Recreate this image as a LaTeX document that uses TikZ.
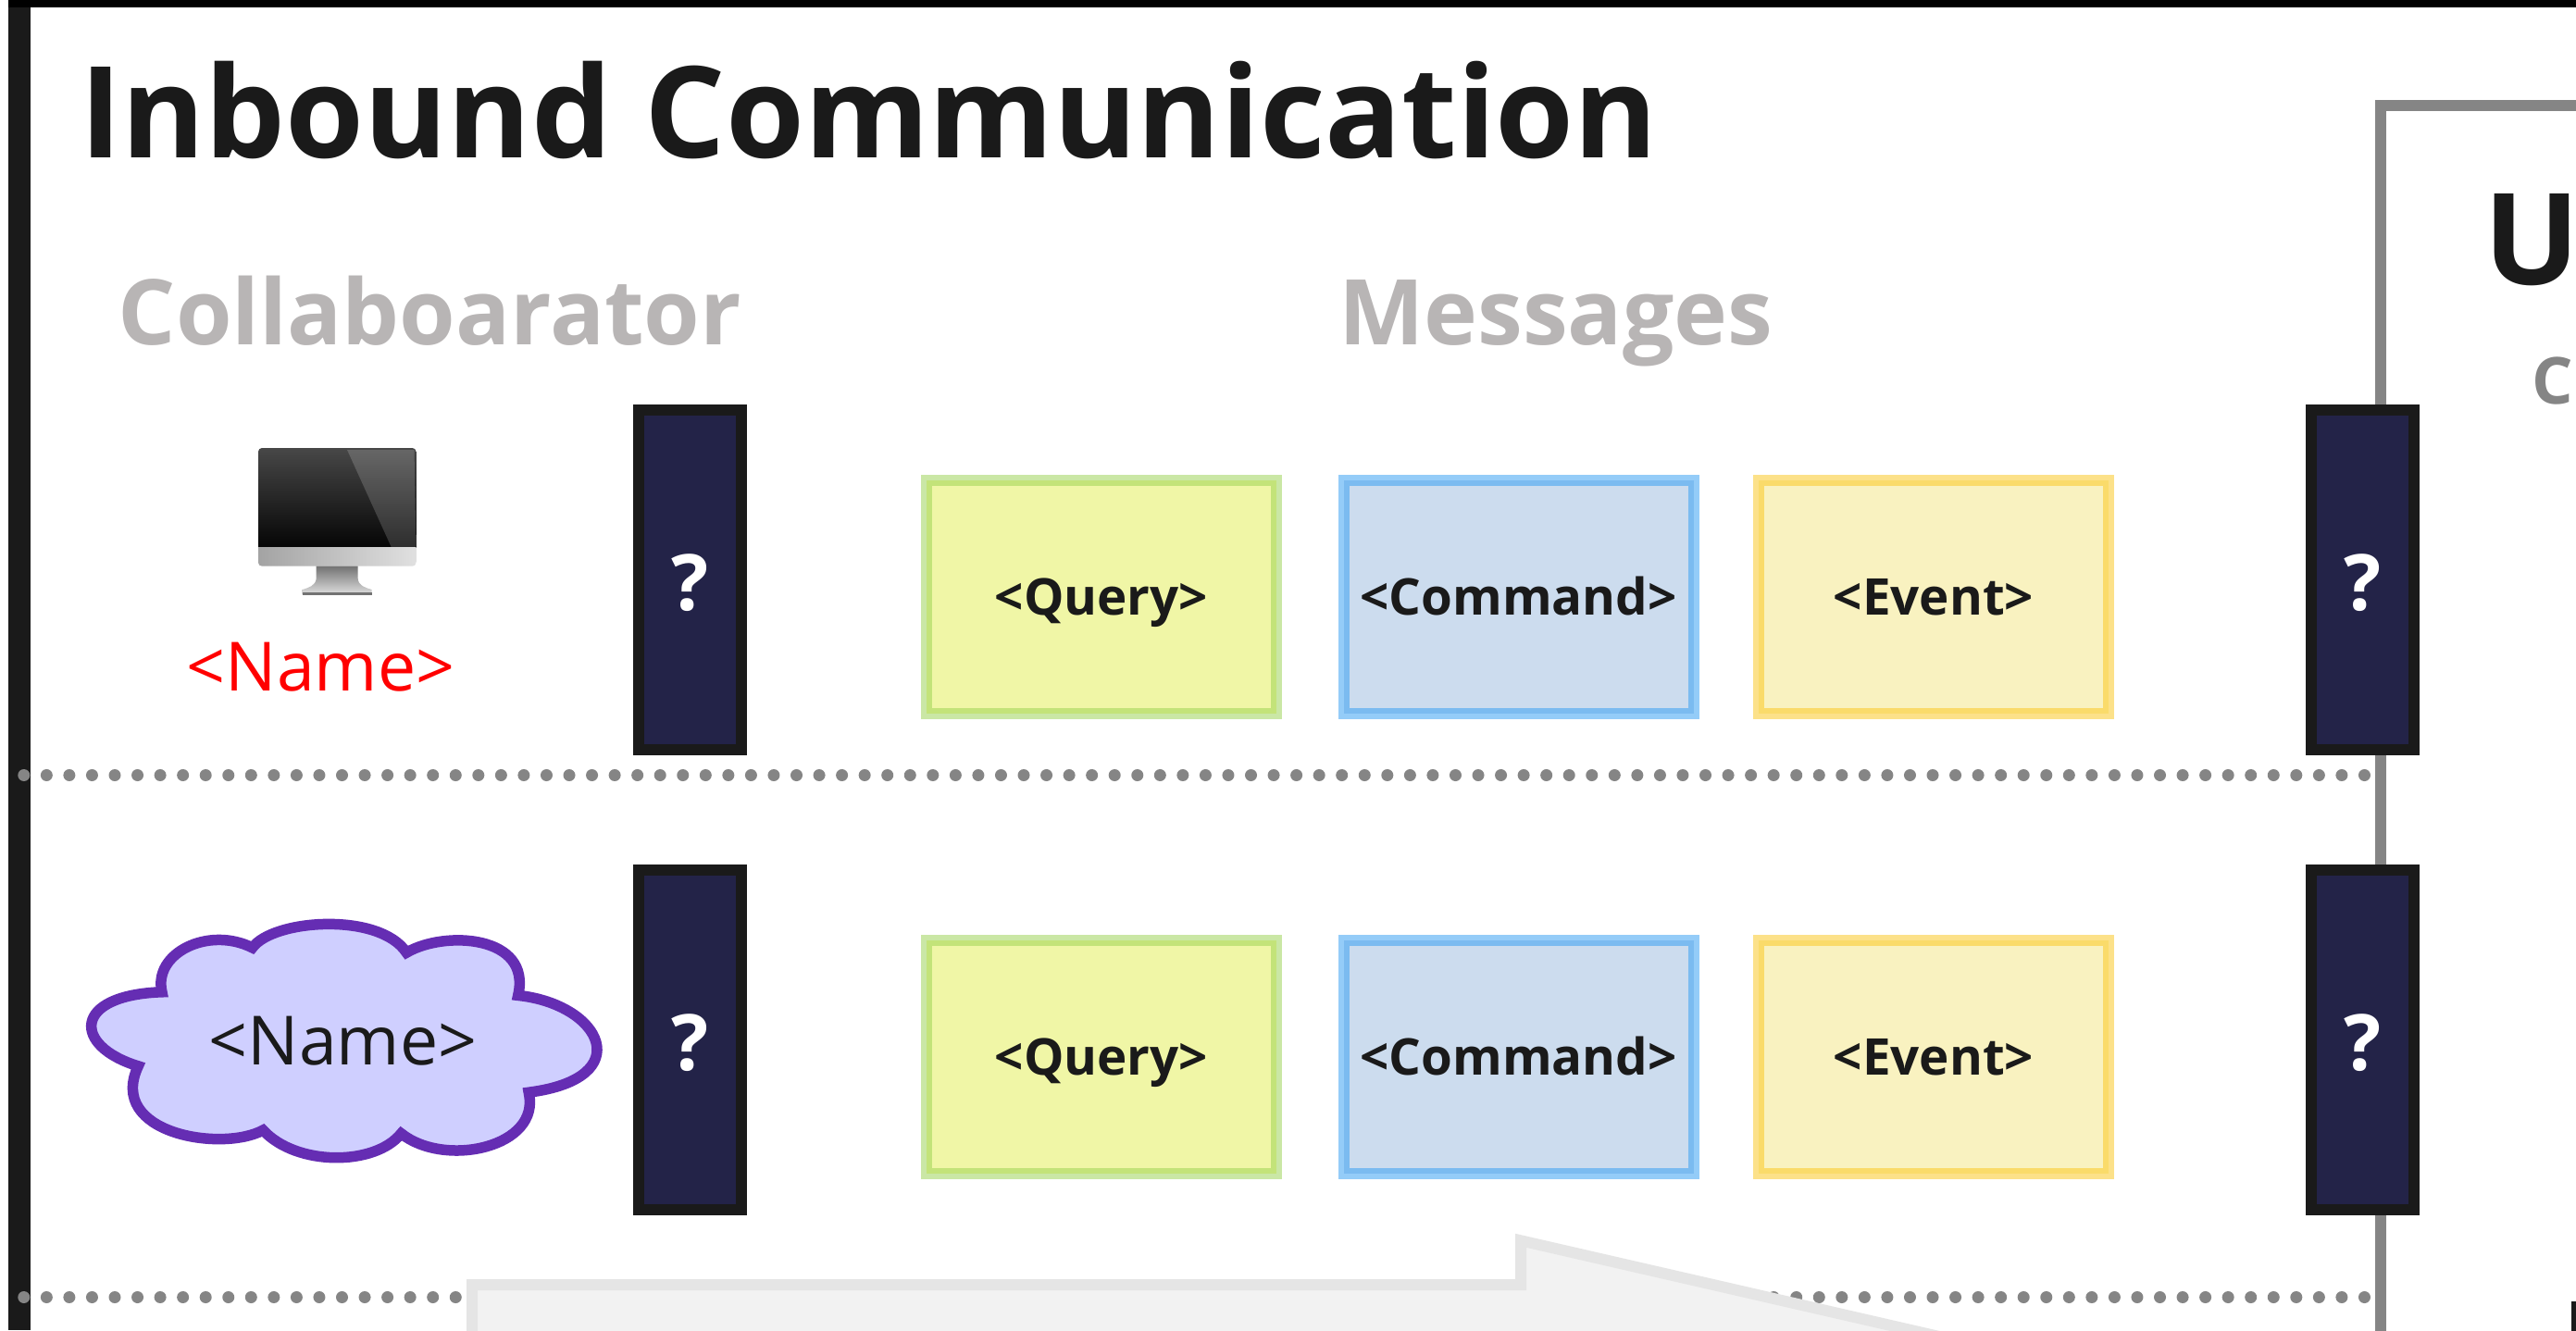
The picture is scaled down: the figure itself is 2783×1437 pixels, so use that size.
\documentclass[tikz,border=0pt]{standalone}
\usepackage{fontspec}
\setmainfont{Open Sans}
\definecolor{inkdark}{HTML}{1A1A1A}
\definecolor{headgray}{HTML}{B8B5B5}
\definecolor{framegray}{HTML}{858585}
\definecolor{portfill}{HTML}{232348}
\definecolor{queryfill}{HTML}{F0F6A6}
\definecolor{querydraw}{HTML}{97D14D}
\definecolor{commandfill}{HTML}{CCDCEE}
\definecolor{commanddraw}{HTML}{2B9BF3}
\definecolor{eventfill}{HTML}{F9F2C0}
\definecolor{eventdraw}{HTML}{FBC515}
\definecolor{cloudfill}{HTML}{CFCFFF}
\definecolor{clouddraw}{HTML}{652DB3}
\definecolor{arrowfill}{HTML}{F2F2F2}
\definecolor{arrowdraw}{HTML}{E5E5E5}
\tikzset{
  msgbox/.style={draw, line width=12pt, draw opacity=.5, minimum width=378pt, minimum height=252pt,
    inner sep=0pt, outer sep=0pt, text=inkdark, text height=38pt, text depth=0pt,
    font=\bfseries\fontsize{54.7}{54.7}\selectfont},
  querybox/.style={msgbox, fill=queryfill, draw=querydraw},
  commandbox/.style={msgbox, fill=commandfill, draw=commanddraw},
  eventbox/.style={msgbox, fill=eventfill, draw=eventdraw},
  portbox/.style={draw=inkdark, fill=portfill, line width=12pt, minimum width=111pt, minimum height=367pt,
    inner sep=0pt, outer sep=0pt, text=white, text height=66pt, text depth=0pt,
    font=\bfseries\fontsize{84}{84}\selectfont},
  titletext/.style={anchor=base west, inner sep=0pt, text=inkdark, font=\bfseries\fontsize{137.3}{137.3}\selectfont},
  headtext/.style={anchor=base west, inner sep=0pt, text=headgray, font=\bfseries\fontsize{98}{98}\selectfont},
  nametext/.style={anchor=base, inner sep=0pt, font=\fontsize{73.4}{73.4}\selectfont},
  dotline/.style={framegray, line width=13pt, line cap=round, dash pattern=on 0pt off 24.55pt},
}
\begin{document}
\begin{tikzpicture}[x=1pt,y=-1pt]
  \useasboundingbox (0,0) rectangle (2783,1437);
  \clip (0,0) rectangle (2783,1437);
  \fill[white] (0,0) rectangle (2783,1437);
  \fill[black] (9,0) rectangle (2783,8);
  \fill[inkdark] (9,8) rectangle (33,1437);
  \fill[inkdark] (2778,1406) rectangle (2790,1445);

  \coordinate (framebottom) at (2572,1445);
  \coordinate (framecorner) at (2572,114);
  \coordinate (frameright) at (2790,114);
  \draw[framegray, line width=12pt] (framebottom) -- (framecorner) -- (frameright);

  \node[titletext] (title) at (86,170) {Inbound Communication};
  \node[headtext] (collab) at (127.5,372.7) {Collaboarator};
  \node[headtext] (messages) at (1446,372.7) {Messages};
  \node[titletext] (ctx) at (2683,307) {U};
  \node[anchor=base west, inner sep=0pt, text=framegray, font=\bfseries\fontsize{70}{70}\selectfont] (ctxsub) at (2735,436) {C};

  \coordinate (dotaleft) at (25.8,837.5);
  \coordinate (dotaright) at (2555,837.5);
  \coordinate (dotbleft) at (25.8,1401.5);
  \coordinate (dotbright) at (2555,1401.5);
  \draw[dotline] (dotaleft) -- (dotaright);
  \draw[dotline] (dotbleft) -- (dotbright);

  \shade[top color=black!72, bottom color=black, rounded corners=4pt] (279,484) rectangle (449.5,600);
  \shade[top color=black!60, bottom color=black!82] (375,486) -- (447.5,486) -- (449.5,591) -- (422.7,591) -- cycle;
  \shade[left color=black!36, right color=black!12, rounded corners=4pt] (279,591) rectangle (449.5,611.7);
  \fill[left color=black!36, right color=black!12] (279,591) rectangle (449.5,600);
  \shade[top color=black!55, bottom color=black!12] (341.7,611.7) -- (386.7,611.7) -- (386.7,625)
    .. controls (387,633) and (395,635) .. (401.7,637) -- (401.7,642.7) -- (326.7,642.7) -- (326.7,637)
    .. controls (333,635) and (341,633) .. (341.7,625) -- cycle;
  \fill[black!55] (327,640) rectangle (401.5,642.7);
  \node[nametext, text=red] (name1) at (346.5,746.7) {<Name>};

  \draw[fill=cloudfill, draw=clouddraw, line width=11.5pt]
    (175,1071.8) .. controls (165,1030) and (225,1000) .. (272.7,1023.9)
    .. controls (295,993) and (410,985) .. (439.2,1029.2)
    .. controls (480,1005) and (575,1010) .. (559.7,1075.4)
    .. controls (650,1085) and (690,1165) .. (571.2,1180.2)
    .. controls (585,1240) and (480,1262) .. (433.4,1224.6)
    .. controls (405,1260) and (320,1260) .. (284.2,1221)
    .. controls (240,1245) and (115,1225) .. (149.3,1151.8)
    .. controls (78,1130) and (78,1075) .. (175,1071.8) -- cycle;
  \node[nametext, text=inkdark] (name2) at (370.5,1150) {<Name>};

  \node[portbox] (port1) at (745.5,626) {?};
  \node[portbox] (port2) at (2552.5,626) {?};
  \node[portbox] (port3) at (745.5,1123) {?};
  \node[portbox] (port4) at (2552.5,1123) {?};

  \node[querybox] (query1) at (1190,645) {<Query>};
  \node[commandbox] (command1) at (1640.5,645) {<Command>};
  \node[eventbox] (event1) at (2089,645) {<Event>};
  \node[querybox] (query2) at (1190,1142) {<Query>};
  \node[commandbox] (command2) at (1640.5,1142) {<Command>};
  \node[eventbox] (event2) at (2089,1142) {<Event>};

  \draw[fill=arrowfill, draw=arrowdraw, line width=12pt, miter limit=20]
    (510,1450) -- (510,1388) -- (1643,1388) -- (1643,1340.3) -- (2108,1447) -- (2108,1450) -- cycle;
\end{tikzpicture}
\end{document}
